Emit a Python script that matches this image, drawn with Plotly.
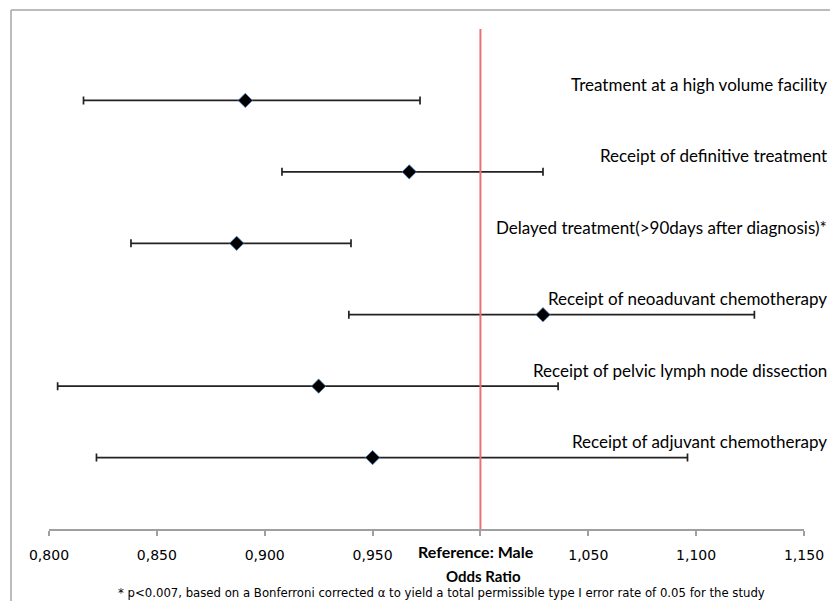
import plotly.graph_objects as go

# ---- data ----
outcomes = [
    "Treatment at a high volume facility",
    "Receipt of definitive treatment",
    "Delayed treatment(>90days after diagnosis)*",
    "Receipt of neoaduvant chemotherapy",
    "Receipt of pelvic lymph node dissection",
    "Receipt of adjuvant chemotherapy",
]
odds_ratio = [0.891, 0.967, 0.887, 1.029, 0.925, 0.950]
ci_lower = [0.816, 0.908, 0.838, 0.939, 0.804, 0.822]
ci_upper = [0.972, 1.029, 0.940, 1.127, 1.036, 1.096]
row_pos = [6, 5, 4, 3, 2, 1]

tick_vals = [0.80, 0.85, 0.90, 0.95, 1.00, 1.05, 1.10, 1.15]
tick_text = ["0,800", "0,850", "0,900", "0,950", "", "1,050", "1,100", "1,150"]
reference_value = 1.0
reference_label = "Reference: Male"
x_title = "Odds Ratio"
footnote = ("* p<0.007, based on a Bonferroni corrected \u03b1 to yield a total "
            "permissible type I error rate of 0.05 for the study")

err_plus = [u - o for u, o in zip(ci_upper, odds_ratio)]
err_minus = [o - l for o, l in zip(odds_ratio, ci_lower)]

W, H = 830, 601
L, R, T, B = 49, 26, 29, 72
pw, ph = W - L - R, H - T - B

def px_x(p):
    return (p - L) / pw

def px_y(p):
    return (H - B - p) / ph

fig = go.Figure()
fig.add_trace(go.Scatter(
    x=odds_ratio, y=row_pos, mode="markers",
    marker=dict(symbol="diamond", size=11, color="#000000",
                line=dict(color="#4A7EBB", width=0.8)),
    error_x=dict(type="data", symmetric=False, array=err_plus,
                 arrayminus=err_minus, color="#222222", thickness=1.7, width=4),
    showlegend=False, hoverinfo="skip", cliponaxis=False,
))

annotations = []
for name, y in zip(outcomes, row_pos):
    annotations.append(dict(
        x=1.15, y=y, xref="x", yref="y", text=name, showarrow=False,
        xanchor="right", yanchor="middle", xshift=25, yshift=16,
        font=dict(family="Lato", size=17, color="#000000"),
    ))
annotations.append(dict(
    x=reference_value, y=px_y(551), xref="x", yref="paper", text=reference_label,
    showarrow=False, xanchor="center", yanchor="middle", xshift=-4,
    font=dict(family="Lato", size=16, color="#000000", weight="bold"),
))
annotations.append(dict(
    x=px_x(483), y=px_y(576), xref="paper", yref="paper", text=x_title,
    showarrow=False, xanchor="center", yanchor="middle",
    font=dict(family="Lato", size=15, color="#000000", weight="bold"),
))
annotations.append(dict(
    x=px_x(441), y=px_y(592), xref="paper", yref="paper", text=footnote,
    showarrow=False, xanchor="center", yanchor="middle",
    font=dict(family="DejaVu Sans Condensed", size=13, color="#000000"),
))

shapes = [
    dict(type="line", xref="x", yref="paper", x0=reference_value, x1=reference_value,
         y0=0, y1=1, line=dict(color="#E57575", width=2)),
    dict(type="line", xref="paper", yref="paper", x0=px_x(11), x1=px_x(900),
         y0=px_y(10), y1=px_y(10), line=dict(color="#A6A6A6", width=1.5)),
    dict(type="line", xref="paper", yref="paper", x0=px_x(11), x1=px_x(11),
         y0=px_y(10), y1=px_y(700), line=dict(color="#A6A6A6", width=1.5)),
]

fig.update_layout(
    width=W, height=H,
    margin=dict(l=L, r=R, t=T, b=B, pad=0),
    paper_bgcolor="white", plot_bgcolor="white",
    xaxis=dict(range=[0.80, 1.15], tickvals=tick_vals, ticktext=tick_text,
               showgrid=False, zeroline=False, showline=True, automargin=False,
               linecolor="#A0A0A0", linewidth=2, ticks="outside", ticklen=5,
               tickcolor="#A0A0A0", tickwidth=1.5, ticklabelstandoff=7,
               tickfont=dict(family="DejaVu Sans", size=14, color="#000000")),
    yaxis=dict(range=[0, 7], showgrid=False, zeroline=False, showline=False,
               showticklabels=False, ticks="", automargin=False),
    annotations=annotations, shapes=shapes,
)

fig.write_html("out.html")
